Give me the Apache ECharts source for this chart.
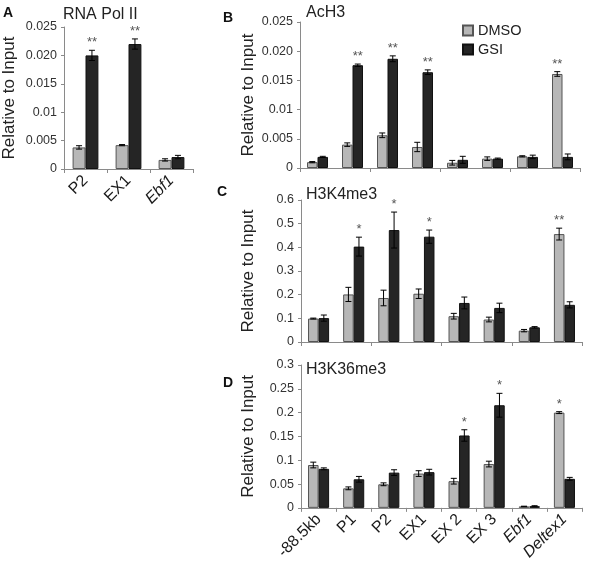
<!DOCTYPE html>
<html><head><meta charset="utf-8">
<script src="https://cdn.jsdelivr.net/npm/echarts@6/dist/echarts.min.js"></script>
<style>html,body{margin:0;padding:0;background:#fff}#c{width:600px;height:563px}</style>
</head><body><div id="c"></div>
<script>
// ---------- data ----------
const catsA = ['P2', 'EX1', 'Ebf1'];
const catsBD = ['-88.5kb', 'P1', 'P2', 'EX1', 'EX 2', 'EX 3', 'Ebf1', 'Deltex1'];
const italicLabels = ['Ebf1', 'Deltex1'];

// Panel A: RNA Pol II
const dmsoA = [0.0038, 0.0042, 0.0016];
const dmsoErrA = [0.0003, 0.0001, 0.0002];
const gsiA = [0.0200, 0.0220, 0.0021];
const gsiErrA = [0.0009, 0.0009, 0.0003];
const starDmsoA = ['', '', ''];
const starGsiA = ['**', '**', ''];
const yTicksA = ['0', '0.005', '0.01', '0.015', '0.020', '0.025'];

// Panel B: AcH3
const dmsoB = [0.0010, 0.0040, 0.0056, 0.0036, 0.0009, 0.0016, 0.0020, 0.0161];
const dmsoErrB = [0.0001, 0.0003, 0.0004, 0.0008, 0.0004, 0.0003, 0.0001, 0.0004];
const gsiB = [0.0019, 0.0176, 0.0187, 0.0164, 0.0014, 0.0016, 0.0019, 0.0019];
const gsiErrB = [0.0001, 0.0002, 0.0005, 0.0004, 0.0006, 0.0001, 0.0003, 0.0005];
const starDmsoB = ['', '', '', '', '', '', '', '**'];
const starGsiB = ['', '**', '**', '**', '', '', '', ''];
const yTicksB = ['0', '0.005', '0.01', '0.015', '0.020', '0.025'];

// Panel C: H3K4me3
const dmsoC = [0.099, 0.201, 0.186, 0.204, 0.109, 0.095, 0.048, 0.456];
const dmsoErrC = [0.002, 0.030, 0.033, 0.020, 0.012, 0.010, 0.005, 0.025];
const gsiC = [0.101, 0.403, 0.473, 0.445, 0.165, 0.144, 0.062, 0.157];
const gsiErrC = [0.013, 0.040, 0.076, 0.028, 0.025, 0.020, 0.003, 0.013];
const starDmsoC = ['', '', '', '', '', '', '', '**'];
const starGsiC = ['', '*', '*', '*', '', '', '', ''];
const yTicksC = ['0', '0.1', '0.2', '0.3', '0.4', '0.5', '0.6'];

// Panel D: H3K36me3
const dmsoD = [0.090, 0.041, 0.0495, 0.072, 0.056, 0.092, 0.003, 0.200];
const dmsoErrD = [0.006, 0.003, 0.003, 0.006, 0.006, 0.006, 0.0005, 0.002];
const gsiD = [0.082, 0.060, 0.074, 0.075, 0.152, 0.2155, 0.0035, 0.061];
const gsiErrD = [0.002, 0.006, 0.006, 0.006, 0.012, 0.025, 0.001, 0.003];
const starDmsoD = ['', '', '', '', '', '', '', '*'];
const starGsiD = ['', '', '', '', '*', '*', '', ''];
const yTicksD = ['0', '0.05', '0.1', '0.15', '0.2', '0.25', '0.3'];

// ---------- styling ----------
const FONT = '"Liberation Sans", Arial, sans-serif';
const GAP = 0.40;
const dmsoStyle = { color: '#b7b7b7', borderColor: '#555', borderWidth: 1 };
const gsiStyle = { color: '#252525', borderColor: '#111', borderWidth: 1 };

const chart = echarts.init(document.getElementById('c'), null, { renderer: 'canvas' });

const grids = [
  { left: 62, top: 27, width: 131, height: 142 },
  { left: 300, top: 22, width: 280, height: 146 },
  { left: 301, top: 200, width: 281, height: 142 },
  { left: 301, top: 365, width: 281, height: 149 }
];

function xAxisFor(idx, cats, showLabels) {
  return {
    type: 'category', gridIndex: idx, data: cats,
    axisLine: { lineStyle: { color: '#8a8a8a', width: 1 } },
    axisTick: { show: true, length: 4, lineStyle: { color: '#8a8a8a' } },
    axisLabel: showLabels ? {
      show: true, rotate: 45, interval: 0, margin: 9,
      fontFamily: FONT, fontSize: 16, color: '#1a1a1a',
      formatter: v => italicLabels.includes(v) ? '{i|' + v + '}' : v,
      rich: { i: { fontStyle: 'italic', fontFamily: FONT, fontSize: 16, color: '#1a1a1a' } }
    } : { show: false }
  };
}
function yAxisFor(idx, ticks, interval, gap) {
  return {
    type: 'value', gridIndex: idx, min: 0, max: interval * (ticks.length - 1), interval: interval,
    name: 'Relative to Input', nameLocation: 'middle', nameGap: gap, nameRotate: 90,
    nameTextStyle: { fontFamily: FONT, fontSize: 17, color: '#222' },
    axisLine: { show: true, lineStyle: { color: '#8a8a8a', width: 1 } },
    axisTick: { show: true, length: 3, lineStyle: { color: '#8a8a8a' } },
    splitLine: { show: false },
    axisLabel: {
      fontFamily: FONT, fontSize: 12.5, color: '#333', margin: 7,
      formatter: v => ticks[Math.round(v / interval)]
    }
  };
}

function errRender(dmso, dErr, gsi, gErr, sD, sG) {
  return function (params, api) {
    const i = api.value(0);
    const c = api.coord([i, 0]);
    const band = api.size([1, 0])[0];
    const bw = band * (1 - GAP) / 2;
    const children = [];
    const sets = [[-1, dmso[i], dErr[i], sD[i]], [1, gsi[i], gErr[i], sG[i]]];
    sets.forEach(([sign, v, e, s]) => {
      const x = c[0] + sign * bw / 2;
      const top = api.coord([i, v + e])[1];
      const bot = api.coord([i, Math.max(v - e, 0)])[1];
      const st = { stroke: '#000', lineWidth: 1 };
      children.push({ type: 'line', shape: { x1: x, y1: top, x2: x, y2: bot }, style: st });
      children.push({ type: 'line', shape: { x1: x - 3, y1: top, x2: x + 3, y2: top }, style: st });
      children.push({ type: 'line', shape: { x1: x - 3, y1: bot, x2: x + 3, y2: bot }, style: st });
      if (s) {
        children.push({ type: 'text', style: {
          text: s, x: x, y: top - 1, textAlign: 'center', textVerticalAlign: 'bottom',
          fontFamily: FONT, fontSize: 13, fill: '#555'
        } });
      }
    });
    return { type: 'group', children: children };
  };
}

function panelSeries(idx, cats, dmso, dErr, gsi, gErr, sD, sG) {
  return [
    { name: 'DMSO', type: 'bar', xAxisIndex: idx, yAxisIndex: idx, data: dmso,
      barGap: '0%', barCategoryGap: (GAP * 100) + '%', itemStyle: dmsoStyle, animation: false },
    { name: 'GSI', type: 'bar', xAxisIndex: idx, yAxisIndex: idx, data: gsi,
      barGap: '0%', barCategoryGap: (GAP * 100) + '%', itemStyle: gsiStyle, animation: false },
    { type: 'custom', xAxisIndex: idx, yAxisIndex: idx, z: 5, animation: false,
      renderItem: errRender(dmso, dErr, gsi, gErr, sD, sG),
      encode: { x: 0, y: 1 },
      data: cats.map((c, i) => [i, Math.max(dmso[i] + dErr[i], gsi[i] + gErr[i])]) }
  ];
}

const titleStyle = { fontFamily: FONT, fontSize: 16, fontWeight: 'normal', color: '#222' };
const letterStyle = { fontFamily: FONT, fontSize: 14, fontWeight: 'bold', color: '#111' };

const option = {
  animation: false,
  backgroundColor: '#fff',
  title: [
    { text: 'A', left: 3, top: 6, padding: 0, textStyle: letterStyle },
    { text: 'B', left: 223, top: 11, padding: 0, textStyle: letterStyle },
    { text: 'C', left: 217, top: 185, padding: 0, textStyle: letterStyle },
    { text: 'D', left: 223, top: 376, padding: 0, textStyle: letterStyle },
    { text: 'RNA Pol II', left: 63, top: 7, padding: 0, textStyle: titleStyle },
    { text: 'AcH3', left: 306, top: 5, padding: 0, textStyle: titleStyle },
    { text: 'H3K4me3', left: 306, top: 187, padding: 0, textStyle: titleStyle },
    { text: 'H3K36me3', left: 306, top: 362, padding: 0, textStyle: titleStyle }
  ],
  legend: {
    data: ['DMSO', 'GSI'], orient: 'vertical', left: 462, top: 23, padding: 0,
    icon: 'rect', itemWidth: 10, itemHeight: 10, itemGap: 4,
    textStyle: { fontFamily: FONT, fontSize: 14.5, color: '#222' },
    selectedMode: false
  },
  grid: grids,
  xAxis: [
    xAxisFor(0, catsA, true),
    xAxisFor(1, catsBD, false),
    xAxisFor(2, catsBD, false),
    xAxisFor(3, catsBD, true)
  ],
  yAxis: [
    yAxisFor(0, yTicksA, 0.005, 46),
    yAxisFor(1, yTicksB, 0.005, 43),
    yAxisFor(2, yTicksC, 0.1, 44),
    yAxisFor(3, yTicksD, 0.05, 44)
  ],
  series: [].concat(
    panelSeries(0, catsA, dmsoA, dmsoErrA, gsiA, gsiErrA, starDmsoA, starGsiA),
    panelSeries(1, catsBD, dmsoB, dmsoErrB, gsiB, gsiErrB, starDmsoB, starGsiB),
    panelSeries(2, catsBD, dmsoC, dmsoErrC, gsiC, gsiErrC, starDmsoC, starGsiC),
    panelSeries(3, catsBD, dmsoD, dmsoErrD, gsiD, gsiErrD, starDmsoD, starGsiD)
  )
};
chart.setOption(option);
</script>
</body></html>
